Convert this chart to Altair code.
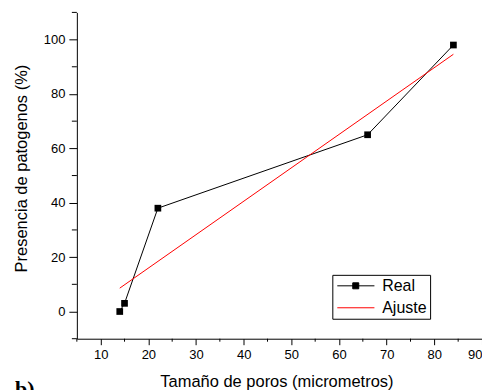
import altair as alt
import pandas as pd

# ---- data ----
real_x = [14, 15, 22, 66, 84]
real_y = [0, 3, 38, 65, 98]
fit_x = [14, 84]
fit_y = [8.6, 94.6]
series_names = ["Real", "Ajuste"]
series_colors = ["black", "#ff0000"]
x_major = [10, 20, 30, 40, 50, 60, 70, 80, 90]
x_minor = [5, 15, 25, 35, 45, 55, 65, 75, 85]
y_major = [0, 20, 40, 60, 80, 100]
y_minor = [-10, 10, 30, 50, 70, 90, 110]

FONT = "Liberation Sans"
W, H = 406, 327

real_df = pd.DataFrame({"x": real_x, "y": real_y, "serie": "Real"})
fit_df = pd.DataFrame({"x": fit_x, "y": fit_y, "serie": "Ajuste"})
data = pd.concat([real_df, fit_df], ignore_index=True)
xminor_df = pd.DataFrame({"x": x_minor})
yminor_df = pd.DataFrame({"y": y_minor})

xscale = alt.Scale(domain=[5, 90], nice=False, zero=False)
yscale = alt.Scale(domain=[-10, 110], nice=False, zero=False)
color_scale = alt.Scale(domain=series_names, range=series_colors)

path_real = "M-1,0H5.2M1.58,-0.5H2.58V0.5H1.58Z"
path_fit = "M-1,0H5.2"
shape_scale = alt.Scale(domain=series_names, range=[path_real, path_fit])

x_axis = alt.Axis(
    values=x_major, title="Tamaño de poros (micrometros)", tickSize=6,
    labelFontSize=13, labelPadding=4, titleFontSize=16.5, titlePadding=12,
    titleX=200, grid=False,
)
y_axis = alt.Axis(
    values=y_major, title="Presencia de patogenos (%)", tickSize=8,
    labelFontSize=13, labelPadding=4, titleFontSize=16.5, titlePadding=14,
    titleY=156, grid=False,
)

X = alt.X("x:Q", scale=xscale, axis=x_axis)
Y = alt.Y("y:Q", scale=yscale, axis=y_axis)

legend_kw = dict(
    title=None, orient="none", legendX=256, legendY=263,
    strokeColor="black", fillColor="white", padding=3,
    symbolSize=144, symbolStrokeWidth=1, labelFontSize=16, labelFont=FONT,
    labelColor="black", labelOffset=31, rowPadding=6, symbolOpacity=1,
)

line_real = alt.Chart(real_df).mark_line(strokeWidth=1, color=series_colors[0]).encode(
    x=X, y=Y, order="x:Q"
)
line_fit = alt.Chart(fit_df).mark_line(strokeWidth=1, color=series_colors[1]).encode(
    x=X, y=Y, order="x:Q"
)

points = alt.Chart(real_df).mark_square(size=45, color="black", opacity=1).encode(
    x=X, y=Y
)

legend_layer = alt.Chart(data).mark_point(filled=False, opacity=0).encode(
    x=X, y=Y,
    color=alt.Color("serie:N", scale=color_scale, legend=alt.Legend(**legend_kw)),
    fill=alt.Fill("serie:N", scale=color_scale, legend=alt.Legend(**legend_kw)),
    shape=alt.Shape("serie:N", scale=shape_scale, legend=alt.Legend(**legend_kw)),
)

xminor = alt.Chart(xminor_df).mark_rule(color="black", strokeWidth=1).encode(
    x=alt.X("x:Q", scale=xscale), y=alt.value(H), y2=alt.value(H + 3)
)
yminor = alt.Chart(yminor_df).mark_rule(color="black", strokeWidth=1).encode(
    y=alt.Y("y:Q", scale=yscale), x=alt.value(0), x2=alt.value(-5)
)

label_b = alt.Chart(pd.DataFrame({"t": ["b)"]})).mark_text(
    font="Liberation Serif", fontWeight="bold", fontSize=22,
    align="left", baseline="top", color="black",
).encode(text="t:N", x=alt.value(-62), y=alt.value(367))

chart = alt.layer(line_real, line_fit, points, legend_layer, xminor, yminor, label_b).properties(
    width=W, height=H,
    autosize=alt.AutoSizeParams(type="none"),
    padding={"left": 69, "top": 4, "right": 0, "bottom": 51},
).configure(font=FONT).configure_view(stroke=None).configure_axis(
    domainColor="black", tickColor="black", labelColor="black",
    titleColor="black", titleFontWeight="normal", labelFont=FONT, titleFont=FONT,
    domainWidth=1, tickWidth=1,
)

chart.save("out.html", embed_options={"renderer": "svg", "actions": False})
